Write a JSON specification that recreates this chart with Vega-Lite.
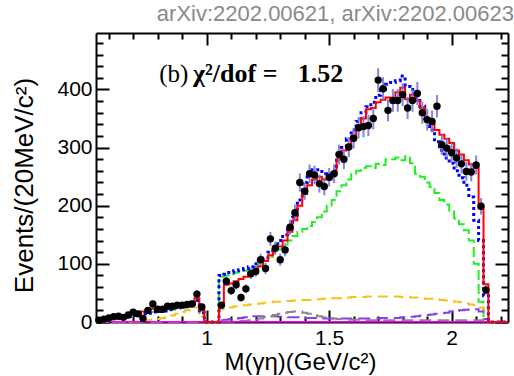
{
"$schema": "https://vega.github.io/schema/vega-lite/v6.json",
"width": 412, "height": 289,
"autosize": {"type": "none"},
"padding": {"left": 96, "top": 33, "right": 6, "bottom": 54},
"background": "white",
"title": {"text": "arXiv:2202.00621, arXiv:2202.00623", "anchor": "end", "fontSize": 22, "font": "Liberation Sans", "fontWeight": "normal", "color": "#8a8a8a", "offset": 6},
"config": {"view": {"stroke": null}, "axis": {"domainColor": "black", "domainWidth": 2, "tickColor": "black", "tickWidth": 2, "labelFont": "Liberation Sans", "labelFontSize": 21, "labelColor": "black", "titleFont": "Liberation Sans", "titleFontSize": 25, "titleFontWeight": "normal", "titleColor": "black", "grid": false, "labelFlush": false, "labelOverlap": false}},
"data": {"values": [
{"lo":0.55,"c":0.56,"d":3,"e":1.7,"r":3,"b":2,"g":2,"yl":0,"pu":0,"gr":0,"mg":0.5},
{"lo":0.57,"c":0.58,"d":5,"e":2.2,"r":4,"b":3,"g":3,"yl":0,"pu":0,"gr":0,"mg":0.5},
{"lo":0.59,"c":0.60,"d":7,"e":2.6,"r":6,"b":4,"g":4,"yl":0,"pu":0,"gr":0,"mg":0.5},
{"lo":0.61,"c":0.62,"d":9,"e":3,"r":8,"b":6,"g":6,"yl":0,"pu":0,"gr":0,"mg":0.5},
{"lo":0.63,"c":0.64,"d":10,"e":3.2,"r":9,"b":7,"g":7,"yl":0,"pu":0,"gr":0,"mg":0.5},
{"lo":0.65,"c":0.66,"d":8,"e":2.8,"r":11,"b":8,"g":8,"yl":0,"pu":0,"gr":0,"mg":0.5},
{"lo":0.67,"c":0.68,"d":12,"e":3.5,"r":12,"b":10,"g":10,"yl":0,"pu":0,"gr":0,"mg":0.5},
{"lo":0.69,"c":0.70,"d":17,"e":4.1,"r":14,"b":11,"g":11,"yl":0,"pu":0,"gr":0,"mg":0.5},
{"lo":0.71,"c":0.72,"d":14,"e":3.7,"r":16,"b":13,"g":13,"yl":1,"pu":0,"gr":0,"mg":0.5},
{"lo":0.73,"c":0.74,"d":6,"e":2.4,"r":18,"b":14,"g":14,"yl":2,"pu":0,"gr":0,"mg":0.5},
{"lo":0.75,"c":0.76,"d":20,"e":4.5,"r":20,"b":15,"g":15,"yl":3,"pu":0,"gr":0,"mg":0.5},
{"lo":0.77,"c":0.78,"d":31,"e":5.6,"r":23,"b":17,"g":17,"yl":4,"pu":0,"gr":0,"mg":0.5},
{"lo":0.79,"c":0.80,"d":22,"e":4.7,"r":23,"b":18,"g":18,"yl":5,"pu":0,"gr":0,"mg":0.5},
{"lo":0.81,"c":0.82,"d":22,"e":4.7,"r":22,"b":18,"g":18,"yl":7,"pu":0,"gr":0,"mg":0.5},
{"lo":0.83,"c":0.84,"d":27,"e":5.2,"r":24,"b":19,"g":19,"yl":9,"pu":0,"gr":0,"mg":0.5},
{"lo":0.85,"c":0.86,"d":27,"e":5.2,"r":26,"b":21,"g":21,"yl":11,"pu":0,"gr":0,"mg":0.5},
{"lo":0.87,"c":0.88,"d":29,"e":5.4,"r":28,"b":24,"g":24,"yl":14,"pu":0,"gr":0,"mg":0.5},
{"lo":0.89,"c":0.90,"d":29,"e":5.4,"r":30,"b":26,"g":26,"yl":17,"pu":0,"gr":0,"mg":0.5},
{"lo":0.91,"c":0.92,"d":30,"e":5.5,"r":32,"b":28,"g":28,"yl":20,"pu":0,"gr":0,"mg":0.5},
{"lo":0.93,"c":0.94,"d":31,"e":5.6,"r":35,"b":31,"g":31,"yl":22,"pu":0,"gr":0,"mg":0.5},
{"lo":0.95,"c":0.96,"d":48,"e":6.9,"r":41,"b":37,"g":36,"yl":25,"pu":0,"gr":0,"mg":0.5},
{"lo":0.97,"c":0.98,"d":26,"e":5.1,"r":20,"b":16,"g":15,"yl":10,"pu":0,"gr":0,"mg":0.5},
{"lo":0.99,"c":1.00,"d":null,"e":null,"r":0,"b":0,"g":0,"yl":0,"pu":0,"gr":0,"mg":0.5},
{"lo":1.01,"c":1.02,"d":null,"e":null,"r":0,"b":0,"g":0,"yl":0,"pu":0,"gr":0,"mg":0.5},
{"lo":1.03,"c":1.04,"d":null,"e":null,"r":0,"b":0,"g":0,"yl":0,"pu":0,"gr":0,"mg":0.5},
{"lo":1.05,"c":1.06,"d":29,"e":5.4,"r":30,"b":80,"g":78,"yl":22,"pu":3,"gr":1,"mg":0.5},
{"lo":1.07,"c":1.08,"d":70,"e":8.4,"r":64,"b":82,"g":80,"yl":24,"pu":4,"gr":1,"mg":0.5},
{"lo":1.09,"c":1.10,"d":54,"e":7.3,"r":66,"b":85,"g":82,"yl":25,"pu":5,"gr":1,"mg":0.5},
{"lo":1.11,"c":1.12,"d":64,"e":8,"r":70,"b":88,"g":85,"yl":27,"pu":6,"gr":1,"mg":0.5},
{"lo":1.13,"c":1.14,"d":42,"e":6.5,"r":74,"b":90,"g":86,"yl":28,"pu":7,"gr":2,"mg":0.5},
{"lo":1.15,"c":1.16,"d":57,"e":7.5,"r":78,"b":92,"g":88,"yl":29,"pu":8,"gr":2,"mg":0.5},
{"lo":1.17,"c":1.18,"d":83,"e":9.1,"r":84,"b":95,"g":90,"yl":30,"pu":9,"gr":3,"mg":0.5},
{"lo":1.19,"c":1.20,"d":87,"e":9.3,"r":90,"b":100,"g":95,"yl":31,"pu":10,"gr":4,"mg":0.5},
{"lo":1.21,"c":1.22,"d":107,"e":10.3,"r":96,"b":105,"g":100,"yl":32,"pu":10,"gr":6,"mg":0.5},
{"lo":1.23,"c":1.24,"d":92,"e":9.6,"r":105,"b":110,"g":105,"yl":33,"pu":10,"gr":8,"mg":0.5},
{"lo":1.25,"c":1.26,"d":143,"e":12,"r":115,"b":120,"g":112,"yl":34,"pu":10,"gr":10,"mg":0.5},
{"lo":1.27,"c":1.28,"d":127,"e":11.3,"r":125,"b":130,"g":120,"yl":35,"pu":10,"gr":12,"mg":0.5},
{"lo":1.29,"c":1.30,"d":107,"e":10.3,"r":130,"b":140,"g":125,"yl":35,"pu":9,"gr":14,"mg":0.5},
{"lo":1.31,"c":1.32,"d":124,"e":11.1,"r":140,"b":150,"g":130,"yl":36,"pu":9,"gr":16,"mg":0.5},
{"lo":1.33,"c":1.34,"d":163,"e":12.8,"r":155,"b":162,"g":140,"yl":36,"pu":8,"gr":17,"mg":0.5},
{"lo":1.35,"c":1.36,"d":188,"e":13.7,"r":175,"b":180,"g":148,"yl":37,"pu":8,"gr":18,"mg":0.5},
{"lo":1.37,"c":1.38,"d":240,"e":15.5,"r":200,"b":210,"g":155,"yl":37,"pu":8,"gr":18,"mg":0.5},
{"lo":1.39,"c":1.40,"d":225,"e":15,"r":220,"b":240,"g":160,"yl":38,"pu":7,"gr":16,"mg":0.5},
{"lo":1.41,"c":1.42,"d":255,"e":16,"r":235,"b":255,"g":165,"yl":38,"pu":7,"gr":14,"mg":0.5},
{"lo":1.43,"c":1.44,"d":253,"e":15.9,"r":245,"b":262,"g":172,"yl":39,"pu":7,"gr":12,"mg":0.5},
{"lo":1.45,"c":1.46,"d":238,"e":15.4,"r":250,"b":262,"g":180,"yl":39,"pu":7,"gr":10,"mg":0.5},
{"lo":1.47,"c":1.48,"d":233,"e":15.3,"r":245,"b":255,"g":190,"yl":40,"pu":6,"gr":8,"mg":0.5},
{"lo":1.49,"c":1.50,"d":249,"e":15.8,"r":245,"b":250,"g":200,"yl":40,"pu":6,"gr":7,"mg":0.5},
{"lo":1.51,"c":1.52,"d":255,"e":16,"r":255,"b":260,"g":210,"yl":41,"pu":6,"gr":6,"mg":0.5},
{"lo":1.53,"c":1.54,"d":288,"e":17,"r":280,"b":285,"g":225,"yl":41,"pu":6,"gr":5,"mg":0.5},
{"lo":1.55,"c":1.56,"d":280,"e":16.7,"r":295,"b":300,"g":235,"yl":42,"pu":6,"gr":5,"mg":0.5},
{"lo":1.57,"c":1.58,"d":301,"e":17.3,"r":305,"b":315,"g":245,"yl":42,"pu":6,"gr":4,"mg":0.5},
{"lo":1.59,"c":1.60,"d":316,"e":17.8,"r":320,"b":330,"g":255,"yl":43,"pu":6,"gr":4,"mg":0.5},
{"lo":1.61,"c":1.62,"d":334,"e":18.3,"r":335,"b":345,"g":260,"yl":43,"pu":6,"gr":4,"mg":0.5},
{"lo":1.63,"c":1.64,"d":336,"e":18.3,"r":350,"b":360,"g":265,"yl":43,"pu":6,"gr":3,"mg":0.5},
{"lo":1.65,"c":1.66,"d":338,"e":18.4,"r":366,"b":370,"g":268,"yl":44,"pu":6,"gr":3,"mg":0.5},
{"lo":1.67,"c":1.68,"d":350,"e":18.7,"r":368,"b":378,"g":265,"yl":44,"pu":6,"gr":3,"mg":0.5},
{"lo":1.69,"c":1.70,"d":416,"e":20.4,"r":378,"b":390,"g":272,"yl":44,"pu":6,"gr":3,"mg":0.5},
{"lo":1.71,"c":1.72,"d":401,"e":20,"r":382,"b":400,"g":270,"yl":44,"pu":7,"gr":3,"mg":0.5},
{"lo":1.73,"c":1.74,"d":364,"e":19.1,"r":386,"b":409,"g":280,"yl":44,"pu":7,"gr":3,"mg":0.5},
{"lo":1.75,"c":1.76,"d":381,"e":19.5,"r":385,"b":412,"g":280,"yl":44,"pu":7,"gr":3,"mg":0.5},
{"lo":1.77,"c":1.78,"d":381,"e":19.5,"r":395,"b":415,"g":283,"yl":44,"pu":7,"gr":3,"mg":0.5},
{"lo":1.79,"c":1.80,"d":391,"e":19.8,"r":403,"b":423,"g":278,"yl":43,"pu":8,"gr":3,"mg":0.5},
{"lo":1.81,"c":1.82,"d":368,"e":19.2,"r":383,"b":405,"g":285,"yl":43,"pu":8,"gr":3,"mg":0.5},
{"lo":1.83,"c":1.84,"d":381,"e":19.5,"r":391,"b":400,"g":273,"yl":42,"pu":9,"gr":3,"mg":0.5},
{"lo":1.85,"c":1.86,"d":393,"e":19.8,"r":380,"b":385,"g":255,"yl":42,"pu":10,"gr":3,"mg":0.5},
{"lo":1.87,"c":1.88,"d":360,"e":19,"r":368,"b":371,"g":250,"yl":41,"pu":11,"gr":3,"mg":0.5},
{"lo":1.89,"c":1.90,"d":348,"e":18.7,"r":350,"b":350,"g":240,"yl":40,"pu":12,"gr":3,"mg":0.5},
{"lo":1.91,"c":1.92,"d":345,"e":18.6,"r":340,"b":330,"g":232,"yl":40,"pu":13,"gr":3,"mg":0.5},
{"lo":1.93,"c":1.94,"d":371,"e":19.3,"r":330,"b":310,"g":222,"yl":39,"pu":14,"gr":3,"mg":0.5},
{"lo":1.95,"c":1.96,"d":305,"e":17.5,"r":322,"b":295,"g":210,"yl":38,"pu":15,"gr":3,"mg":0.5},
{"lo":1.97,"c":1.98,"d":299,"e":17.3,"r":315,"b":282,"g":202,"yl":37,"pu":16,"gr":3,"mg":0.5},
{"lo":1.99,"c":2.00,"d":291,"e":17.1,"r":308,"b":273,"g":190,"yl":36,"pu":18,"gr":3,"mg":0.5},
{"lo":2.01,"c":2.02,"d":282,"e":16.8,"r":295,"b":260,"g":178,"yl":35,"pu":19,"gr":3,"mg":0.5},
{"lo":2.03,"c":2.04,"d":272,"e":16.5,"r":288,"b":248,"g":168,"yl":34,"pu":20,"gr":3,"mg":0.5},
{"lo":2.05,"c":2.06,"d":259,"e":16.1,"r":278,"b":235,"g":158,"yl":32,"pu":21,"gr":3,"mg":0.5},
{"lo":2.07,"c":2.08,"d":258,"e":16.1,"r":271,"b":215,"g":140,"yl":30,"pu":22,"gr":3,"mg":0.5},
{"lo":2.09,"c":2.10,"d":270,"e":16.4,"r":265,"b":175,"g":100,"yl":29,"pu":22,"gr":3,"mg":0.5},
{"lo":2.11,"c":2.12,"d":199,"e":14.1,"r":195,"b":140,"g":35,"yl":25,"pu":18,"gr":3,"mg":0.5},
{"lo":2.13,"c":2.14,"d":55,"e":7.4,"r":65,"b":45,"g":10,"yl":5,"pu":5,"gr":1,"mg":0.5},
{"lo":2.15,"c":2.16,"d":null,"e":null,"r":0,"b":0,"g":0,"yl":0,"pu":0,"gr":0,"mg":0.5},
{"lo":2.17,"c":2.18,"d":null,"e":null,"r":0,"b":0,"g":0,"yl":0,"pu":0,"gr":0,"mg":0.5},
{"lo":2.19,"c":2.20,"d":null,"e":null,"r":0,"b":0,"g":0,"yl":0,"pu":0,"gr":0,"mg":0.5},
{"lo":2.21,"c":2.22,"d":null,"e":null,"r":0,"b":0,"g":0,"yl":0,"pu":0,"gr":0,"mg":0.5},
{"lo":2.23,"c":null,"d":null,"e":null,"r":0,"b":0,"g":0,"yl":0,"pu":0,"gr":0,"mg":0.5}
]},
"resolve": {"axis": {"x": "independent", "y": "independent"}},
"layer": [
{"mark": {"type": "line", "interpolate": "step-after", "color": "#22ee22", "strokeWidth": 2, "strokeDash": [10, 4]},
 "encoding": {"x": {"field": "lo", "type": "quantitative", "scale": {"domain": [0.548, 2.23], "nice": false, "zero": false}, "axis": null},
  "y": {"field": "g", "type": "quantitative", "scale": {"domain": [0, 497], "nice": false}, "axis": null}}},
{"mark": {"type": "line", "interpolate": "step-after", "color": "#f5c21b", "strokeWidth": 2, "strokeDash": [10, 6]},
 "encoding": {"x": {"field": "lo", "type": "quantitative", "scale": {"domain": [0.548, 2.23], "nice": false, "zero": false}, "axis": null},
  "y": {"field": "yl", "type": "quantitative", "scale": {"domain": [0, 497], "nice": false}, "axis": null}}},
{"mark": {"type": "line", "interpolate": "step-after", "color": "#8c3cf0", "strokeWidth": 2, "strokeDash": [12, 6]},
 "encoding": {"x": {"field": "lo", "type": "quantitative", "scale": {"domain": [0.548, 2.23], "nice": false, "zero": false}, "axis": null},
  "y": {"field": "pu", "type": "quantitative", "scale": {"domain": [0, 497], "nice": false}, "axis": null}}},
{"mark": {"type": "line", "interpolate": "step-after", "color": "#888888", "strokeWidth": 2, "strokeDash": [12, 6]},
 "encoding": {"x": {"field": "lo", "type": "quantitative", "scale": {"domain": [0.548, 2.23], "nice": false, "zero": false}, "axis": null},
  "y": {"field": "gr", "type": "quantitative", "scale": {"domain": [0, 497], "nice": false}, "axis": null}}},
{"mark": {"type": "line", "interpolate": "step-after", "color": "#ff00ff", "strokeWidth": 1.5},
 "encoding": {"x": {"field": "lo", "type": "quantitative", "scale": {"domain": [0.548, 2.23], "nice": false, "zero": false}, "axis": null},
  "y": {"field": "mg", "type": "quantitative", "scale": {"domain": [0, 497], "nice": false}, "axis": null}}},
{"mark": {"type": "line", "interpolate": "step-after", "color": "#0000ff", "strokeWidth": 3, "strokeDash": [3, 3]},
 "encoding": {"x": {"field": "lo", "type": "quantitative", "scale": {"domain": [0.548, 2.23], "nice": false, "zero": false},
   "axis": {"orient": "top", "values": [0.6,0.7,0.8,0.9,1,1.1,1.2,1.3,1.4,1.5,1.6,1.7,1.8,1.9,2,2.1,2.2], "tickSize": {"condition": {"test": "abs(datum.value*2-round(datum.value*2))<0.001", "value": -12}, "value": -6}, "labels": false, "title": null}},
  "y": {"field": "b", "type": "quantitative", "scale": {"domain": [0, 497], "nice": false},
   "axis": {"orient": "right", "values": [0,20,40,60,80,100,120,140,160,180,200,220,240,260,280,300,320,340,360,380,400,420,440,460,480], "tickSize": {"condition": {"test": "datum.value % 100 === 0", "value": -13}, "value": -7}, "labels": false, "title": null}}}},
{"mark": {"type": "line", "interpolate": "step-after", "color": "#ff0000", "strokeWidth": 2},
 "encoding": {"x": {"field": "lo", "type": "quantitative", "scale": {"domain": [0.548, 2.23], "nice": false, "zero": false},
   "axis": {"orient": "bottom", "values": [0.6,0.7,0.8,0.9,1,1.1,1.2,1.3,1.4,1.5,1.6,1.7,1.8,1.9,2,2.1,2.2], "tickSize": {"condition": {"test": "abs(datum.value*2-round(datum.value*2))<0.001", "value": -12}, "value": -6}, "labelExpr": "abs(datum.value*2-round(datum.value*2))<0.001 ? datum.value + '' : ''", "labelPadding": 17, "title": "M(γη)(GeV/c²)", "titleFontSize": 24, "titleX": 204, "titleY": 47, "titleBaseline": "alphabetic", "titleAlign": "center"}},
  "y": {"field": "r", "type": "quantitative", "scale": {"domain": [0, 497], "nice": false},
   "axis": {"orient": "left", "values": [0,20,40,60,80,100,120,140,160,180,200,220,240,260,280,300,320,340,360,380,400,420,440,460,480], "tickSize": {"condition": {"test": "datum.value % 100 === 0", "value": -13}, "value": -7}, "labelExpr": "datum.value % 100 === 0 ? datum.label : ''", "labelPadding": 17, "title": "Events/(20MeV/c²)", "titleFontSize": 26, "titleX": -72, "titleY": 152, "titleBaseline": "middle", "titleAlign": "center"}}}},
{"transform": [{"filter": "isValid(datum.d)"}],
 "mark": {"type": "errorbar", "ticks": false, "color": "#6e6ee0", "thickness": 2, "opacity": 0.85},
 "encoding": {"x": {"field": "c", "type": "quantitative", "scale": {"domain": [0.548, 2.23], "nice": false, "zero": false}, "axis": null},
  "y": {"field": "d", "type": "quantitative", "scale": {"domain": [0, 497], "nice": false}, "axis": null},
  "yError": {"field": "e"}}},
{"transform": [{"filter": "isValid(datum.d)"}],
 "mark": {"type": "circle", "color": "black", "size": 55, "opacity": 1},
 "encoding": {"x": {"field": "c", "type": "quantitative", "scale": {"domain": [0.548, 2.23], "nice": false, "zero": false}, "axis": null},
  "y": {"field": "d", "type": "quantitative", "scale": {"domain": [0, 497], "nice": false}, "axis": null}}},
{"data": {"values": [{"t": "(b)"}]},
 "mark": {"type": "text", "align": "left", "baseline": "alphabetic", "font": "Liberation Serif", "fontSize": 25, "color": "black"},
 "encoding": {"x": {"datum": 0.806, "type": "quantitative", "axis": null}, "y": {"datum": 412, "type": "quantitative", "axis": null}, "text": {"field": "t"}}},
{"data": {"values": [{"t": "χ²/dof ="}]},
 "mark": {"type": "text", "align": "left", "baseline": "alphabetic", "font": "Liberation Serif", "fontSize": 26, "fontWeight": "bold", "color": "black"},
 "encoding": {"x": {"datum": 0.944, "type": "quantitative", "axis": null}, "y": {"datum": 412, "type": "quantitative", "axis": null}, "text": {"field": "t"}}},
{"data": {"values": [{"t": "1.52"}]},
 "mark": {"type": "text", "align": "left", "baseline": "alphabetic", "font": "Liberation Serif", "fontSize": 26, "fontWeight": "bold", "color": "black"},
 "encoding": {"x": {"datum": 1.372, "type": "quantitative", "axis": null}, "y": {"datum": 412, "type": "quantitative", "axis": null}, "text": {"field": "t"}}}
]
}
